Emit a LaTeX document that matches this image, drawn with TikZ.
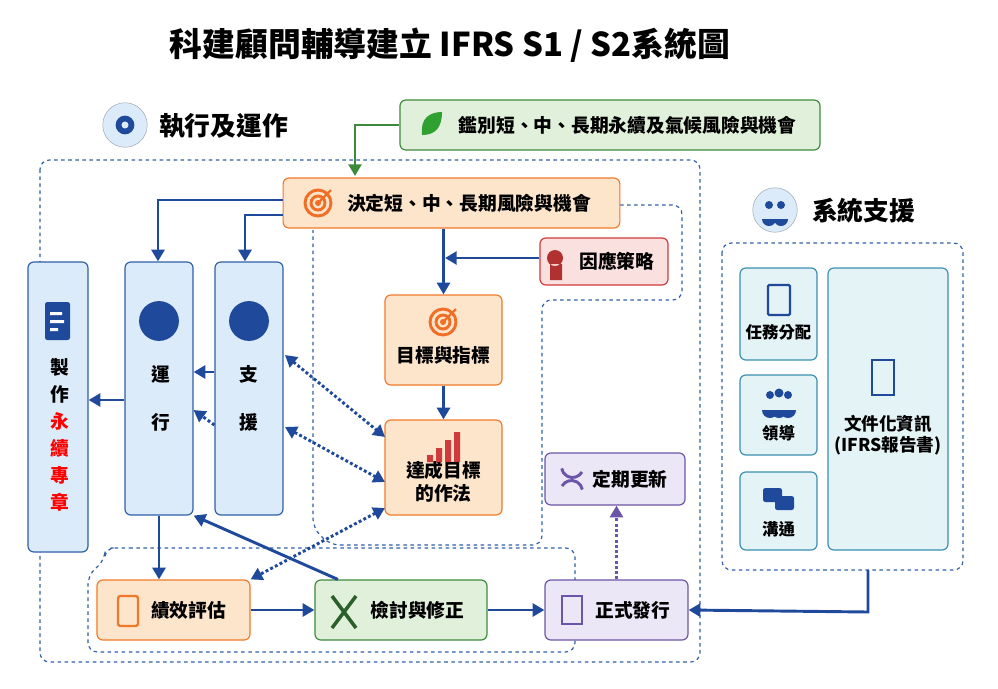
\documentclass[tikz,border=0pt]{standalone}
\usepackage{fontspec}
\setmainfont{Noto Sans CJK TC}
\usetikzlibrary{arrows.meta}
\definecolor{nav}{HTML}{1F4A9C}
\definecolor{blfill}{HTML}{DCEBF9}
\definecolor{bldr}{HTML}{2E5FA8}
\definecolor{orfill}{HTML}{FDE5CC}
\definecolor{ordr}{HTML}{F07A2A}
\definecolor{grfill}{HTML}{E1F0DA}
\definecolor{grdr}{HTML}{3C8A3C}
\definecolor{rdfill}{HTML}{FBE0E0}
\definecolor{rddr}{HTML}{D03A3A}
\definecolor{pufill}{HTML}{ECE7F6}
\definecolor{pudr}{HTML}{6B55A8}
\definecolor{tlfill}{HTML}{E4F3F6}
\definecolor{tldr}{HTML}{3A8FB0}
\tikzset{
 box/.style={rounded corners=5pt,line width=1pt,inner sep=0pt,font=\bfseries\fontsize{16}{20}\selectfont},
 bl/.style={box,fill=blfill,draw=bldr},
 or/.style={box,fill=orfill,draw=ordr},
 gr/.style={box,fill=grfill,draw=grdr},
 rd/.style={box,fill=rdfill,draw=rddr},
 pu/.style={box,fill=pufill,draw=pudr},
 tl/.style={box,fill=tlfill,draw=tldr},
 tip/.style={-{Triangle[length=10pt,width=11pt]}},
 arr/.style={line width=2.5pt,draw=nav,tip},
 dot/.style={line width=2.5pt,draw=nav,dotted,{Triangle[length=10pt,width=11pt]}-{Triangle[length=10pt,width=11pt]}},
 dsh/.style={draw=bldr,dashed,line width=1pt,rounded corners=8pt},
 lbl/.style={font=\bfseries\fontsize{22}{26}\selectfont},
}
\begin{document}
\begin{tikzpicture}[x=0.03cm,y=-0.03cm]
\useasboundingbox (0,0) rectangle (998,688);
\node[font=\bfseries\fontsize{28}{32}\selectfont] (title) at (450,45) {科建顧問輔導建立 IFRS S1 / S2系統圖};
% section headers
\node[circle,fill=blfill,draw=blfill!70!black,minimum size=38pt] (g1) at (125,125) {};
\node[circle,fill=nav,minimum size=16pt,inner sep=0pt] at (g1) {};
\node[circle,fill=blfill,minimum size=6pt,inner sep=0pt] at (g1) {};
\node[lbl,anchor=west] (h1) at (155,126) {執行及運作};
\node[circle,fill=blfill,draw=blfill!70!black,minimum size=38pt] (g2) at (775,210) {};
\node[lbl,anchor=west] (h2) at (808,211) {系統支援};
\fill[nav] (769,205) circle (4) (781,205) circle (4);
\fill[nav] (762,219) arc(180:0:7) -- cycle (774,219) arc(180:0:7) -- cycle;
% dashed regions
\draw[dsh] (40,160) rectangle (700,662);
\draw[dsh] (620,205) -- (682,205) -- (682,300) -- (542,300) -- (542,545) -- (330,545) -- (313,528) -- (313,230);
\draw[dsh] (120,548) -- (575,548) -- (575,652) -- (88,652) -- (88,575) -- (105,560) -- (105,548) -- cycle;
\draw[dsh] (722,243) rectangle (963,570);
% top green
\node[gr,minimum width=12.6cm,minimum height=1.5cm] (src) at (610,125) {\hspace{30pt}鑑別短、中、長期永續及氣候風險與機會};
\fill[grdr!80!green] (422,135) .. controls (420,118) and (430,112) .. (442,112) .. controls (442,128) and (435,135) .. (422,135) -- cycle;
\draw[line width=2.5pt,draw=grdr,tip] (src.west) -- (355,125) -- (355,176);
% main boxes
\node[or,minimum width=10.1cm,minimum height=1.5cm] (dec) at (451.5,203) {\hspace{30pt}決定短、中、長期風險與機會};
\node[rd,minimum width=3.84cm,minimum height=1.41cm] (res) at (604,261.5) {\hspace{22pt}因應策略};
\node[or,minimum width=3.51cm,minimum height=2.7cm,align=center] (goal) at (443.5,340) {\\[20pt]目標與指標};
\node[or,minimum width=3.51cm,minimum height=2.85cm,align=center] (ach) at (443.5,467.5) {\\[18pt]達成目標\\的作法};
\node[bl,minimum width=1.8cm,minimum height=8.7cm] (doc) at (58,407) {};
\node[bl,minimum width=2.04cm,minimum height=7.59cm] (op) at (159,388.5) {};
\node[bl,minimum width=2.04cm,minimum height=7.59cm] (sup) at (249,388.5) {};
\node[font=\bfseries\fontsize{16}{20}\selectfont,align=center] at (60,435) {製\\[3pt]作\\[3pt]\textcolor{red}{永}\\[3pt]\textcolor{red}{續}\\[3pt]\textcolor{red}{專}\\[3pt]\textcolor{red}{章}};
\node[font=\bfseries\fontsize{16}{20}\selectfont] at (161,374) {運};
\node[font=\bfseries\fontsize{16}{20}\selectfont] at (161,422) {行};
\node[font=\bfseries\fontsize{16}{20}\selectfont] at (249,374) {支};
\node[font=\bfseries\fontsize{16}{20}\selectfont] at (249,422) {援};
\node[circle,fill=nav,minimum size=34pt] at (159,321) {};
\node[circle,fill=nav,minimum size=34pt] at (249,321) {};
\fill[nav,rounded corners=2pt] (45,302) rectangle (70,340);
\fill[white] (50,312) rectangle (62,315) (50,320) rectangle (64,323) (50,328) rectangle (58,331);
\node[or,minimum width=4.59cm,minimum height=1.8cm] (perf) at (173.5,610) {\hspace{26pt}績效評估};
\node[gr,minimum width=5.16cm,minimum height=1.8cm] (rev) at (401,610) {\hspace{28pt}檢討與修正};
\node[pu,minimum width=4.29cm,minimum height=1.8cm] (pub) at (616.5,610) {\hspace{28pt}正式發行};
\node[pu,minimum width=4.2cm,minimum height=1.56cm] (upd) at (615,479) {\hspace{26pt}定期更新};
% system support boxes
\node[tl,minimum width=2.31cm,minimum height=2.76cm,align=center,font=\bfseries\fontsize{14}{17}\selectfont] (task) at (778.5,314) {\\[26pt]任務分配};
\node[tl,minimum width=2.31cm,minimum height=2.4cm,align=center,font=\bfseries\fontsize{14}{17}\selectfont] (lead) at (778.5,415) {\\[26pt]領導};
\node[tl,minimum width=2.31cm,minimum height=2.34cm,align=center,font=\bfseries\fontsize{14}{17}\selectfont] (comm) at (778.5,511) {\\[26pt]溝通};
\node[tl,minimum width=3.6cm,minimum height=8.46cm,align=center,font=\bfseries\fontsize{15}{18}\selectfont] (file) at (888,409) {\\[40pt]文件化資訊\\(IFRS報告書)};
% icons (simplified)
\foreach \cx/\cy in {318/203,443/322} {
 \draw[ordr!90!red,line width=2.5pt] (\cx,\cy) circle (13) (\cx,\cy) circle (7);
 \fill[ordr!90!red] (\cx,\cy) circle (3);
 \draw[ordr!90!red,line width=2pt] (\cx,\cy) -- (\cx+13,\cy-13);}
\fill[rddr!85!black] (555,258) circle (8) (550,264) rectangle (562,280);
\fill[rddr] (427,455) rectangle (433,462) (436,448) rectangle (442,462) (445,440) rectangle (451,462) (454,432) rectangle (460,462);
\draw[ordr,line width=2pt,rounded corners=2pt] (118,596) rectangle (138,626);
\draw[grdr!70!black,line width=3pt] (332,596) -- (356,628) (356,596) -- (332,628);
\draw[pudr,line width=2pt] (562,596) rectangle (582,624);
\draw[pudr,line width=2.5pt] (582,472) arc(30:170:11) (562,486) arc(210:350:11);
\draw[nav,line width=2pt,rounded corners=1pt] (768,285) rectangle (790,315);
\fill[nav] (770,395) circle (4) (779,393) circle (4.5) (788,395) circle (4) (762,410) arc(180:0:8) -- cycle (771,410) arc(180:0:8) --cycle (780,410) arc(180:0:8)--cycle;
\fill[nav,rounded corners=2pt] (763,488) rectangle (782,502) (775,496) rectangle (794,510);
\draw[nav,line width=2pt] (872,360) rectangle (894,395);
% connectors
\draw[arr] (dec.west |- 0,200) -- (158,200) -- (op.north -| 158,0);
\draw[arr] (dec.west |- 0,215) -- (245,215) -- (sup.north -| 245,0);
\draw[arr] (dec.south -| goal.north) -- (goal.north);
\draw[arr] (res.west |- 0,258) -- (445,258);
\draw[arr] (goal.south) -- (ach.north);
\coordinate (supR1) at (285,355); \coordinate (supR2) at (285,427);
\coordinate (achL1) at (385,437); \coordinate (achL2) at (385,482); \coordinate (achL3) at (385,508);
\draw[dot] (supR1) -- (achL1);
\draw[dot] (supR2) -- (achL2);
\draw[dot] (achL3) -- (perf.north east);
\draw[arr] (sup.west |- 0,372) -- (op.east |- 0,372);
\draw[line width=2.5pt,draw=nav,dotted,tip] (sup.west |- 0,425) -- (op.east |- 0,410);
\draw[arr] (op.west |- 0,400) -- (doc.east |- 0,400);
\draw[arr] (op.south) -- (perf.north -| op.south);
\draw[arr] (perf.east) -- (rev.west);
\draw[arr] (rev.east) -- (pub.west);
\draw[arr] ([xshift=20pt]rev.north west) -- (op.south east);
\draw[line width=2.5pt,draw=pudr,dotted,tip] (pub.north) -- (upd.south -| pub.north);
\draw[arr] (868,570) -- (868,612) -- (pub.east);
\end{tikzpicture}
\end{document}
